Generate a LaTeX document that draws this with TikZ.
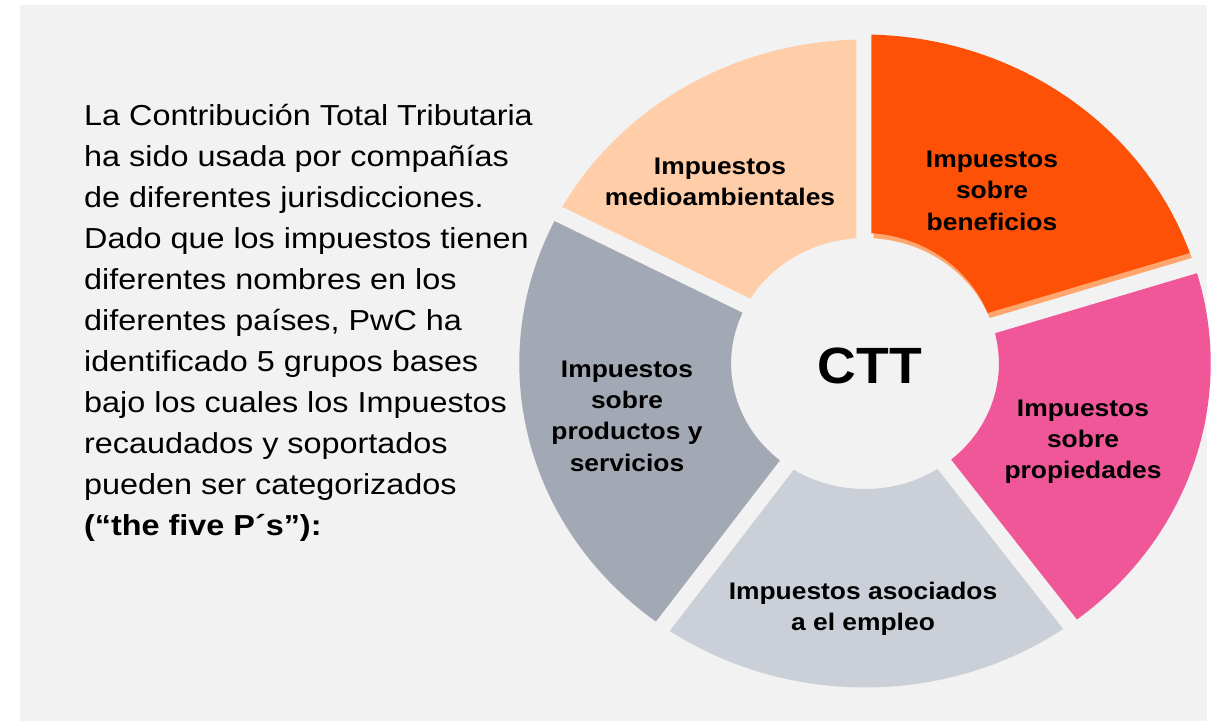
\documentclass[tikz,border=0pt]{standalone}
\usepackage{fontspec}
\setmainfont{Liberation Sans}[FakeStretch=1.1]
\newfontfamily\parafont{Liberation Sans}[FakeStretch=1.12]
\newfontfamily\cttfont{Liberation Sans}[FakeStretch=1.05]
\definecolor{bgc}{HTML}{F2F2F2}
\definecolor{orangec}{HTML}{FD5108}
\definecolor{shadowc}{HTML}{FFA66E}
\definecolor{peachc}{HTML}{FFCDA8}
\definecolor{pinkc}{HTML}{EF5798}
\definecolor{grayc}{HTML}{A2A8B4}
\definecolor{lgrayc}{HTML}{CBD0D8}
\newcommand\segpath[2]{({#1+1.415}:324) arc[start angle={#1+1.415}, end angle={#2-1.415}, radius=324] -- ({#2-3.655}:125.5) arc[start angle={#2-3.655}, end angle={#1+3.655}, radius=125.5] -- cycle}
\tikzset{
  lbl/.style={font=\bfseries\fontsize{24}{31.2}\selectfont, align=center, anchor=north, inner sep=0pt, text=black},
  para/.style={font=\parafont\fontsize{28.9}{41}\selectfont, anchor=base west, inner sep=0pt, text=black},
}
\begin{document}
\begin{tikzpicture}[x=1pt,y=-1pt]
\fill[white] (0,0) rectangle (1213,721);
\useasboundingbox (0,0) rectangle (1213,721);
\fill[bgc] (20,5) rectangle (1207,721);
\begin{scope}[shift={(865,363.5)}, xscale=1.067]
  \fill[shadowc] \segpath{-90}{-17.6};
  \fill[orangec, shift={(-2,-5)}] \segpath{-90}{-17.6};
  \fill[pinkc] \segpath{-17.6}{53.6};
  \fill[lgrayc] \segpath{53.6}{125.8};
  \fill[grayc] \segpath{125.8}{207.5};
  \fill[peachc] \segpath{207.5}{270};
\end{scope}
\node[lbl] (tbenef) at (992,151) {Impuestos\\sobre\\beneficios};
\node[lbl] (tmedio) at (720,157.3) {Impuestos\\medioambientales};
\node[lbl] (tprod) at (627,360.7) {Impuestos\\sobre\\productos y\\servicios};
\node[lbl] (tprop) at (1083,399.3) {Impuestos\\sobre\\propiedades};
\node[lbl] (templ) at (863,581.7) {Impuestos asociados\\a el empleo};
\node[font=\cttfont\bfseries\fontsize{51}{51}\selectfont, anchor=base, inner sep=0pt] (ctt) at (870,383.3) {CTT};
\node[para] (l1) at (84,125) {La Contribución Total Tributaria};
\node[para] (l2) at (84,166) {ha sido usada por compañías};
\node[para] (l3) at (84,207) {de diferentes jurisdicciones.};
\node[para] (l4) at (84,248) {Dado que los impuestos tienen};
\node[para] (l5) at (84,289) {diferentes nombres en los};
\node[para] (l6) at (84,330) {diferentes países, PwC ha};
\node[para] (l7) at (84,371) {identificado 5 grupos bases};
\node[para] (l8) at (84,412) {bajo los cuales los Impuestos};
\node[para] (l9) at (84,453) {recaudados y soportados};
\node[para] (l10) at (84,494) {pueden ser categorizados};
\node[para, font=\parafont\bfseries\fontsize{28.9}{41}\selectfont] (l11) at (84,535) {(“the five P´s”):};
\end{tikzpicture}
\end{document}
